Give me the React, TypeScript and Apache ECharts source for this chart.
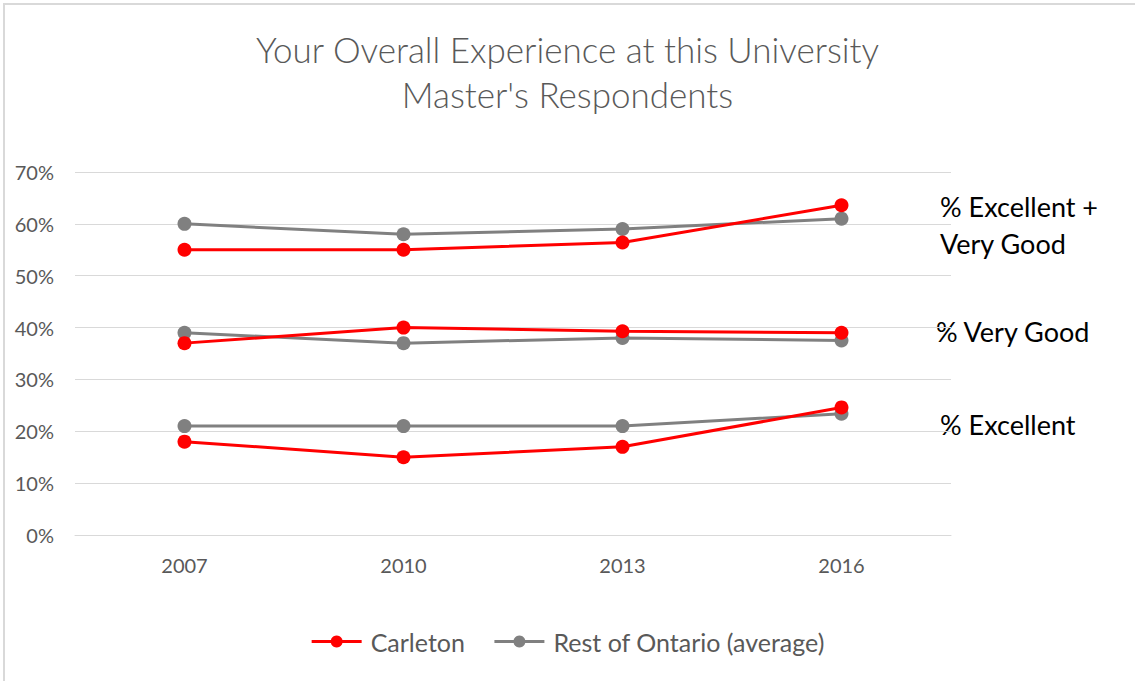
import React, { useEffect, useRef } from "react";
import * as echarts from "echarts";

const years = ["2007", "2010", "2013", "2016"];
const carletonExcVG = [55, 55, 56.4, 63.6];
const ontarioExcVG = [60, 58, 59, 61];
const carletonVG = [37, 40, 39.3, 39];
const ontarioVG = [39, 37, 38, 37.5];
const carletonExc = [18, 15, 17, 24.6];
const ontarioExc = [21, 21, 21, 23.4];
const yTicks = [0, 10, 20, 30, 40, 50, 60, 70];
const groupLabels = ["% Excellent +\nVery Good", "% Very Good", "% Excellent"];

const RED = "#FF0000";
const GRAY = "#808080";
const FONT = "Lato, 'Open Sans', sans-serif";

export default function App() {
  const ref = useRef<HTMLDivElement>(null);
  useEffect(() => {
    document.body.style.margin = "0";
    const chart = echarts.init(ref.current!, null, { renderer: "svg" });
    const mk = (name: string, data: number[], color: string) => ({
      name,
      type: "line",
      data,
      symbol: "circle",
      symbolSize: 14,
      lineStyle: { color, width: 3 },
      itemStyle: { color },
      z: color === RED ? 3 : 2,
    });
    chart.setOption({
      animation: false,
      backgroundColor: "#ffffff",
      textStyle: { fontFamily: FONT },
      title: {
        text: "Your Overall Experience at this University\nMaster's Respondents",
        left: "center",
        top: 21,
        textStyle: {
          fontFamily: FONT,
          fontSize: 35,
          fontWeight: 300,
          color: "#595959",
          lineHeight: 45,
        },
      },
      legend: {
        bottom: 22,
        left: "center",
        itemWidth: 50,
        itemHeight: 15,
        itemGap: 28,
        lineStyle: { width: 3 },
        textStyle: { fontFamily: FONT, fontSize: 25, color: "#595959", padding: [0, 0, 0, 4] },
        data: ["Carleton", "Rest of Ontario (average)"],
      },
      grid: { left: 75, right: 184, top: 172, bottom: 146 },
      xAxis: {
        type: "category",
        data: years,
        boundaryGap: true,
        axisLine: { show: true, lineStyle: { color: "#d9d9d9", width: 1 } },
        axisTick: { show: false },
        axisLabel: { color: "#595959", fontSize: 20, margin: 20, fontFamily: FONT },
      },
      yAxis: {
        type: "value",
        min: yTicks[0],
        max: yTicks[yTicks.length - 1],
        interval: 10,
        axisLine: { show: false },
        axisTick: { show: false },
        splitLine: { lineStyle: { color: "#d9d9d9", width: 1 } },
        axisLabel: {
          color: "#595959",
          fontSize: 20,
          margin: 21,
          fontFamily: FONT,
          formatter: (v: number) => `${v}%`,
        },
      },
      graphic: [
        {
          type: "rect",
          shape: { x: 4, y: 4, width: 1200, height: 760 },
          style: { fill: "none", stroke: "#d9d9d9", lineWidth: 2 },
          silent: true,
        },
        {
          type: "text",
          left: 940,
          top: 188,
          style: {
            text: groupLabels[0],
            fontFamily: FONT,
            fontSize: 27,
            lineHeight: 37,
            fill: "#000000",
          },
        },
        {
          type: "text",
          left: 936,
          top: 318,
          style: { text: groupLabels[1], fontFamily: FONT, fontSize: 27, fill: "#000000" },
        },
        {
          type: "text",
          left: 940,
          top: 411,
          style: { text: groupLabels[2], fontFamily: FONT, fontSize: 27, fill: "#000000" },
        },
      ],
      series: [
        mk("Carleton", carletonExcVG, RED),
        mk("Rest of Ontario (average)", ontarioExcVG, GRAY),
        mk("Carleton", carletonVG, RED),
        mk("Rest of Ontario (average)", ontarioVG, GRAY),
        mk("Carleton", carletonExc, RED),
        mk("Rest of Ontario (average)", ontarioExc, GRAY),
      ],
    });
    return () => chart.dispose();
  }, []);
  return <div ref={ref} style={{ width: 1135, height: 681 }} />;
}
